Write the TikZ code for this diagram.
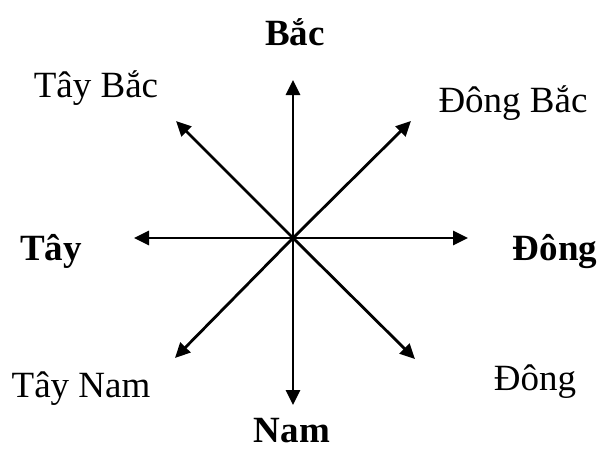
\documentclass[tikz,border=0pt]{standalone}
\usepackage{fontspec}
\setmainfont{Liberation Serif}
\usetikzlibrary{arrows.meta}
\begin{document}
\begin{tikzpicture}[x=0.5pt,y=-0.5pt,
  dirarrow/.style={line width=1.4pt,-{Triangle[length=7.5pt,width=7pt]}},
  lbl/.style={inner sep=0pt,anchor=base,font=\fontsize{18.5}{22}\selectfont},
  blbl/.style={lbl,font=\fontsize{18.5}{22}\selectfont\bfseries}]
\useasboundingbox (0,0) rectangle (599,455);
\coordinate (c) at (293,238);
\coordinate (n) at (293,80);
\coordinate (s) at (293,405);
\coordinate (w) at (134,238);
\coordinate (e) at (468,238);
\coordinate (ne) at (411,121);
\coordinate (nw) at (176,121);
\coordinate (se) at (415,359);
\coordinate (sw) at (175,358);
\foreach \p in {n,s,w,e,ne,nw,se,sw} \draw[dirarrow] (c) -- (\p);
\node[blbl] (bac) at (295,45) {Bắc};
\node[blbl] (nam) at (292,442) {Nam};
\node[blbl] (tay) at (51,260) {Tây};
\node[blbl] (dong) at (555,260) {Đông};
\node[lbl] (taybac) at (96,97) {Tây Bắc};
\node[lbl] (dongbac) at (513,112) {Đông Bắc};
\node[lbl] (taynam) at (81,397) {Tây Nam};
\node[lbl] (dongnam) at (535,390) {Đông};
\end{tikzpicture}
\end{document}
